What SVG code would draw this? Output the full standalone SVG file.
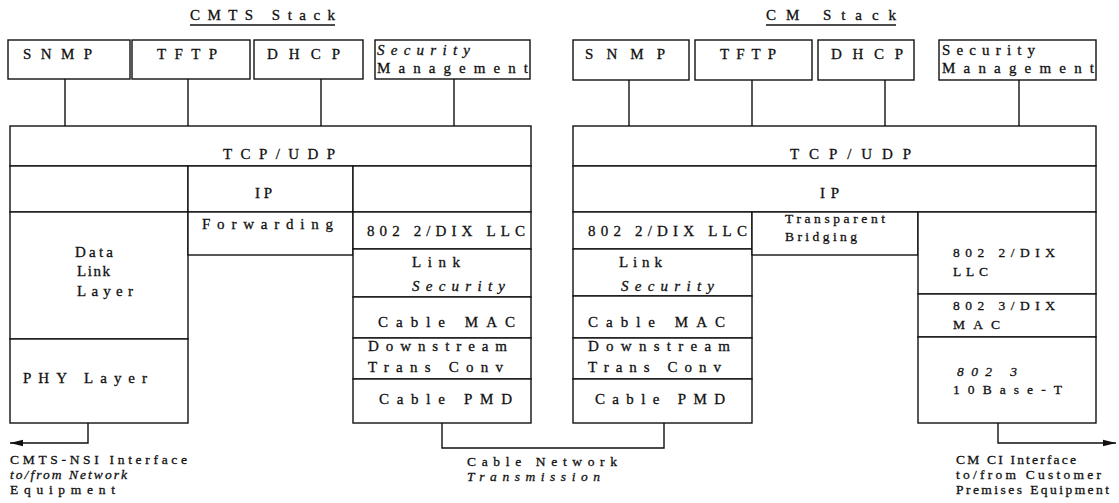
<svg xmlns="http://www.w3.org/2000/svg" width="1119" height="503" viewBox="0 0 1119 503">
<style>
.b{fill:#fff;stroke:#111;stroke-width:1.4}
.c{fill:none;stroke:#111;stroke-width:1.4}
text{font-family:"Liberation Serif","Times New Roman",serif;font-size:15px;fill:#111;stroke:#111;stroke-width:0.3}
.i{font-style:italic}
.s{font-size:13.5px}
.t{font-size:15px}
</style>
<defs>
<marker id="ah" markerWidth="14" markerHeight="8" refX="13" refY="4" orient="auto" markerUnits="userSpaceOnUse">
<path d="M0,0.8 L13,4 L0,7.2 Z" fill="#111"/>
</marker>
</defs>
<rect width="1119" height="503" fill="#fff"/>

<!-- Titles -->
<g id="cmts-title">
<text class="t" x="190" y="20" textLength="145" lengthAdjust="spacing">CMTS Stack</text>
<line class="c" x1="190" y1="25" x2="335" y2="25"/>
</g>
<g id="cm-title">
<text class="t" x="766" y="20" textLength="130" lengthAdjust="spacing">CM Stack</text>
<line class="c" x1="766" y1="25" x2="896" y2="25"/>
</g>

<!-- Connectors -->
<g id="connectors">
<line class="c" x1="65" y1="79" x2="65" y2="126"/>
<line class="c" x1="188" y1="79" x2="188" y2="126"/>
<line class="c" x1="321" y1="79" x2="321" y2="126"/>
<line class="c" x1="454" y1="79" x2="454" y2="126"/>
<line class="c" x1="629" y1="80" x2="629" y2="126"/>
<line class="c" x1="752" y1="80" x2="752" y2="126"/>
<line class="c" x1="885" y1="80" x2="885" y2="126"/>
<line class="c" x1="1019" y1="80" x2="1019" y2="126"/>
<path class="c" d="M88,423 V443 H10" marker-end="url(#ah)"/>
<path class="c" d="M442,423 V448 H664 V423"/>
<path class="c" d="M998,423 V443 H1116" marker-end="url(#ah)"/>
</g>

<!-- CMTS stack -->
<g id="cmts-snmp"><rect class="b" x="8" y="40" width="122" height="39"/><text x="23" y="59" textLength="69" lengthAdjust="spacing">SNMP</text></g>
<g id="cmts-tftp"><rect class="b" x="132" y="40" width="118" height="39"/><text x="157" y="59" textLength="60" lengthAdjust="spacing">TFTP</text></g>
<g id="cmts-dhcp"><rect class="b" x="254" y="40" width="109" height="39"/><text x="267" y="59" textLength="73" lengthAdjust="spacing">DHCP</text></g>
<g id="cmts-secmgmt"><rect class="b" x="375" y="40" width="155" height="39"/><text class="i" x="377" y="55" textLength="93" lengthAdjust="spacing">Security</text><text x="377" y="73" textLength="151" lengthAdjust="spacing">Management</text></g>
<g id="cmts-tcpudp"><rect class="b" x="10" y="126" width="521" height="40"/><text x="223" y="159" textLength="112" lengthAdjust="spacing">TCP/UDP</text></g>
<g id="cmts-ip-left"><rect class="b" x="10" y="166" width="178" height="46"/></g>
<g id="cmts-ip"><rect class="b" x="188" y="166" width="165" height="46"/><text x="255" y="198" textLength="17" lengthAdjust="spacing">IP</text></g>
<g id="cmts-ip-right"><rect class="b" x="353" y="166" width="178" height="46"/></g>
<g id="cmts-datalink"><rect class="b" x="10" y="212" width="178" height="127"/><text x="75" y="257" textLength="38" lengthAdjust="spacing">Data</text><text x="77" y="276" textLength="33" lengthAdjust="spacing">Link</text><text x="77" y="296" textLength="56" lengthAdjust="spacing">Layer</text></g>
<g id="cmts-phy"><rect class="b" x="10" y="339" width="178" height="84"/><text x="23" y="383" textLength="124" lengthAdjust="spacing">PHY Layer</text></g>
<g id="cmts-forwarding"><rect class="b" x="188" y="212" width="165" height="43"/><text x="202" y="229" textLength="131" lengthAdjust="spacing">Forwarding</text></g>
<g id="cmts-llc"><rect class="b" x="353" y="212" width="178" height="37"/><text x="367" y="236" textLength="158" lengthAdjust="spacing">802 2/DIX LLC</text></g>
<g id="cmts-linksec"><rect class="b" x="353" y="249" width="178" height="48"/><text x="412" y="267" textLength="48" lengthAdjust="spacing">Link</text><text class="i" x="412" y="291" textLength="93" lengthAdjust="spacing">Security</text></g>
<g id="cmts-cablemac"><rect class="b" x="353" y="297" width="178" height="41"/><text x="378" y="327" textLength="137" lengthAdjust="spacing">Cable MAC</text></g>
<g id="cmts-downstream"><rect class="b" x="353" y="338" width="178" height="41"/><text x="368" y="351" textLength="139" lengthAdjust="spacing">Downstream</text><text x="368" y="372" textLength="135" lengthAdjust="spacing">Trans Conv</text></g>
<g id="cmts-pmd"><rect class="b" x="353" y="379" width="178" height="44"/><text x="379" y="404" textLength="133" lengthAdjust="spacing">Cable PMD</text></g>

<!-- CM stack -->
<g id="cm-snmp"><rect class="b" x="573" y="40" width="116" height="40"/><text x="585" y="59" textLength="80" lengthAdjust="spacing">SNMP</text></g>
<g id="cm-tftp"><rect class="b" x="695" y="40" width="117" height="40"/><text x="720" y="59" textLength="56" lengthAdjust="spacing">TFTP</text></g>
<g id="cm-dhcp"><rect class="b" x="818" y="40" width="96" height="40"/><text x="831" y="59" textLength="72" lengthAdjust="spacing">DHCP</text></g>
<g id="cm-secmgmt"><rect class="b" x="939" y="40" width="157" height="40"/><text x="942" y="55" textLength="93" lengthAdjust="spacing">Security</text><text x="942" y="73" textLength="152" lengthAdjust="spacing">Management</text></g>
<g id="cm-tcpudp"><rect class="b" x="573" y="126" width="523" height="40"/><text x="790" y="159" textLength="121" lengthAdjust="spacing">TCP/UDP</text></g>
<g id="cm-ip"><rect class="b" x="573" y="166" width="523" height="46"/><text x="820" y="198" textLength="19" lengthAdjust="spacing">IP</text></g>
<g id="cm-llc"><rect class="b" x="573" y="212" width="179" height="37"/><text x="588" y="236" textLength="159" lengthAdjust="spacing">802 2/DIX LLC</text></g>
<g id="cm-linksec"><rect class="b" x="573" y="249" width="179" height="47"/><text x="619" y="267" textLength="43" lengthAdjust="spacing">Link</text><text class="i" x="621" y="291" textLength="93" lengthAdjust="spacing">Security</text></g>
<g id="cm-cablemac"><rect class="b" x="573" y="296" width="179" height="42"/><text x="588" y="327" textLength="137" lengthAdjust="spacing">Cable MAC</text></g>
<g id="cm-downstream"><rect class="b" x="573" y="338" width="179" height="41"/><text x="588" y="351" textLength="142" lengthAdjust="spacing">Downstream</text><text x="588" y="372" textLength="133" lengthAdjust="spacing">Trans Conv</text></g>
<g id="cm-pmd"><rect class="b" x="573" y="379" width="179" height="44"/><text x="595" y="404" textLength="130" lengthAdjust="spacing">Cable PMD</text></g>
<g id="cm-bridging"><rect class="b" x="752" y="212" width="166" height="43"/><text class="s" x="785" y="223" textLength="100" lengthAdjust="spacing">Transparent</text><text class="s" x="785" y="241" textLength="72" lengthAdjust="spacing">Bridging</text></g>
<g id="cm-llc2"><rect class="b" x="918" y="212" width="178" height="82"/><text class="s" x="953" y="257" textLength="102" lengthAdjust="spacing">802 2/DIX</text><text class="s" x="953" y="276" textLength="35" lengthAdjust="spacing">LLC</text></g>
<g id="cm-mac2"><rect class="b" x="918" y="294" width="178" height="43"/><text class="s" x="953" y="310" textLength="102" lengthAdjust="spacing">802 3/DIX</text><text class="s" x="953" y="329" textLength="47" lengthAdjust="spacing">MAC</text></g>
<g id="cm-10baset"><rect class="b" x="918" y="337" width="178" height="86"/><text class="s i" x="957" y="376" textLength="60" lengthAdjust="spacing">802 3</text><text class="s" x="953" y="394" textLength="109" lengthAdjust="spacing">10Base-T</text></g>

<!-- Interface labels -->
<g id="label-nsi">
<text class="s" x="10" y="464" textLength="177" lengthAdjust="spacing">CMTS-NSI Interface</text>
<text class="s i" x="10" y="479" textLength="117" lengthAdjust="spacing">to/from Network</text>
<text class="s" x="10" y="494" textLength="105" lengthAdjust="spacing">Equipment</text>
</g>
<g id="label-cable">
<text class="s" x="467" y="466" textLength="150" lengthAdjust="spacing">Cable Network</text>
<text class="s i" x="467" y="481" textLength="133" lengthAdjust="spacing">Transmission</text>
</g>
<g id="label-cmci">
<text class="s" x="956" y="464" textLength="120" lengthAdjust="spacing">CM CI Interface</text>
<text class="s" x="956" y="479" textLength="145" lengthAdjust="spacing">to/from Customer</text>
<text class="s" x="956" y="494" textLength="153" lengthAdjust="spacing">Premises Equipment</text>
</g>
</svg>
